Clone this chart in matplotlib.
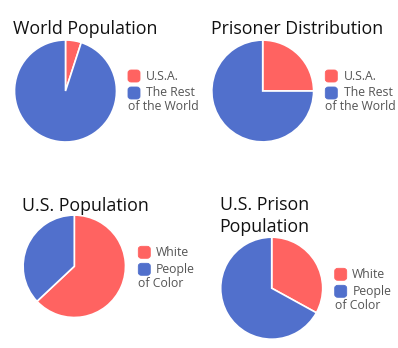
import matplotlib
matplotlib.use("Agg")
import matplotlib.pyplot as plt
from matplotlib.patches import FancyBboxPatch

plt.rcParams['font.family'] = ['Open Sans', 'DejaVu Sans']

W, H = 398, 348
red = "#ff6361"
blue = "#5170cc"

titles = ["World Population", "Prisoner Distribution", "U.S. Population", "U.S. Prison\nPopulation"]
world_labels = ["U.S.A.", "The Rest\nof the World"]
race_labels = ["White", "People\nof Color"]
world_pop = [5, 95]
prisoners = [25, 75]
us_pop = [63, 37]
us_prison = [33, 67]

# pixel layout: pie centre, radius, title anchor, legend square left/top
panels = [
    dict(vals=world_pop, labels=world_labels, c=(65.5, 91), r=51.5,
         t=(13, 34.5), sq=(128, 70), txt=146),
    dict(vals=prisoners, labels=world_labels, c=(262.7, 91), r=51.4,
         t=(210.5, 34.5), sq=(325.3, 70), txt=343.7),
    dict(vals=us_pop, labels=race_labels, c=(74.3, 266.3), r=51.7,
         t=(22.5, 210.5), sq=(138.3, 246.3), txt=155.7),
    dict(vals=us_prison, labels=race_labels, c=(271.7, 288.2), r=51.5,
         t=(219.5, 231.5), sq=(334.7, 268.3), txt=352.3),
]


def fx(x):
    return x / W


def fy(y):
    return 1 - y / H


fig = plt.figure(figsize=(W / 100, H / 100), dpi=100)
fig.patch.set_facecolor("white")

for title, p in zip(titles, panels):
    cx, cy = p["c"]
    r = p["r"]
    ax = fig.add_axes([fx(cx - r), fy(cy + r), 2 * r / W, 2 * r / H])
    ax.pie(p["vals"], colors=[red, blue], startangle=90, counterclock=False,
           wedgeprops=dict(edgecolor="white", linewidth=1.2))
    ax.set_xlim(-1.01, 1.01)
    ax.set_ylim(-1.01, 1.01)
    ax.set_aspect("auto")
    ax.axis("off")

    fig.text(fx(p["t"][0]), fy(p["t"][1]), title, fontsize=12.8,
             color="#111111", ha="left", va="baseline", linespacing=1.27)

    sx, sy = p["sq"]
    for i, (lab, col) in enumerate(zip(p["labels"], [red, blue])):
        top = sy + i * 17
        box = FancyBboxPatch((fx(sx), fy(top + 12)), 12 / W, 12 / H,
                             boxstyle="round,pad=0,rounding_size=0.008",
                             transform=fig.transFigure, facecolor=col,
                             edgecolor=col, linewidth=0.6)
        fig.patches.append(box)
        first, *rest = lab.split("\n")
        fig.text(fx(p["txt"]), fy(top + 6), first, fontsize=8.8,
                 color="#555555", ha="left", va="center")
        if rest:
            fig.text(fx(sx), fy(top + 20), rest[0], fontsize=8.8,
                     color="#555555", ha="left", va="center")

fig.savefig("out.png", dpi=100, facecolor="white")
